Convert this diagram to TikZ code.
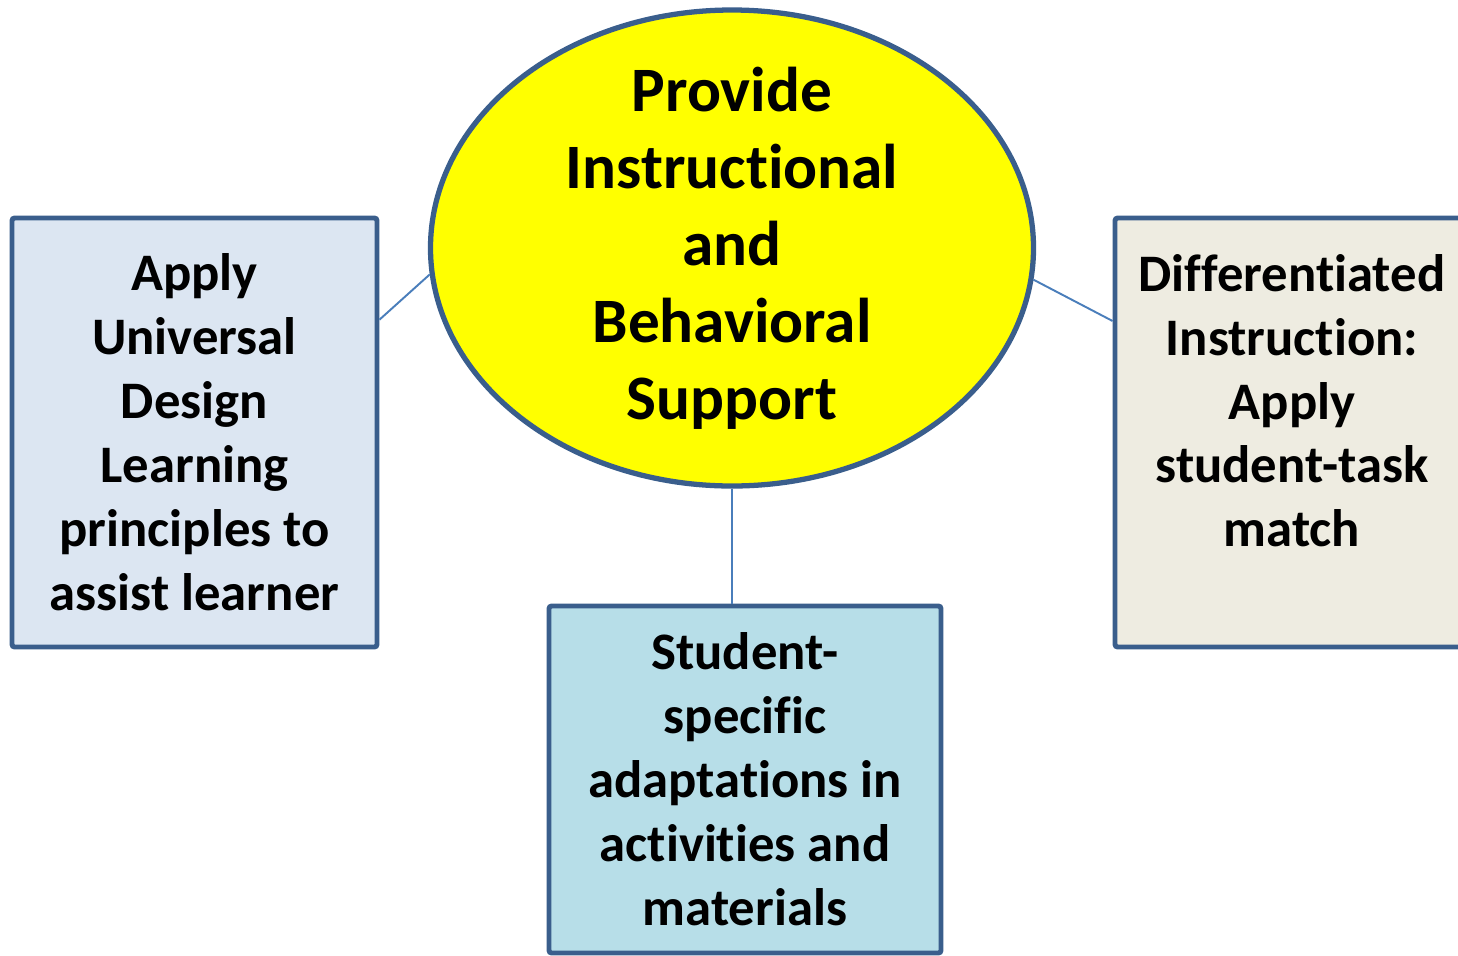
\documentclass[tikz,border=0pt]{standalone}
\usepackage{fontspec}
\setmainfont{Carlito}[Ligatures=NoCommon]
\usetikzlibrary{calc, positioning, shapes.geometric}

\definecolor{edgeblue}{HTML}{3A5E8C}
\definecolor{linkblue}{HTML}{4A7EBB}
\definecolor{hubyellow}{HTML}{FFFF00}
\definecolor{udlfill}{HTML}{DCE6F2}
\definecolor{adaptfill}{HTML}{B7DEE8}
\definecolor{difffill}{HTML}{EEECE1}

\begin{document}
\begin{tikzpicture}[font=\bfseries,
  box/.style={draw=edgeblue, line width=2.8pt, rectangle, rounded corners=1.5pt, align=center, inner sep=0pt, font=\fontsize{30}{36.4}\selectfont\bfseries},
  link/.style={draw=linkblue, line width=1.1pt}]
  \useasboundingbox (0,0) rectangle (29.16,-19.1);

  \node[draw=edgeblue, line width=3pt, fill=hubyellow, ellipse, minimum width=12.06cm, minimum height=9.52cm, inner xsep=0pt, inner ysep=-1cm, align=center, font=\fontsize{36}{43.8}\selectfont\bfseries] (ell) at (14.64,-4.96) {Provide\\Instructional\\and\\Behavioral\\Support};

  \node[box, fill=udlfill, minimum width=7.30cm, minimum height=8.58cm] (udl) at (3.89,-8.65) {Apply\\Universal\\Design\\Learning\\principles to\\assist learner};
  \node[box, fill=difffill, minimum width=7.08cm, minimum height=8.58cm] (diff) at (25.84,-8.65) {Differentiated\\Instruction:\\Apply\\student-task\\match\\~};
  \node[box, fill=adaptfill, minimum width=7.84cm, minimum height=6.94cm] (adapt) at (14.90,-15.59) {Student-\\specific\\adaptations in\\activities and\\materials};

  \draw[link] ($(udl.north east)!0.24!(udl.south east)$) -- (ell.185.4);
  \draw[link] (ell.354.6) -- ($(diff.north west)!0.243!(diff.south west)$);
  \draw[link] (ell.south) -- (ell.south |- adapt.north);
\end{tikzpicture}
\end{document}
